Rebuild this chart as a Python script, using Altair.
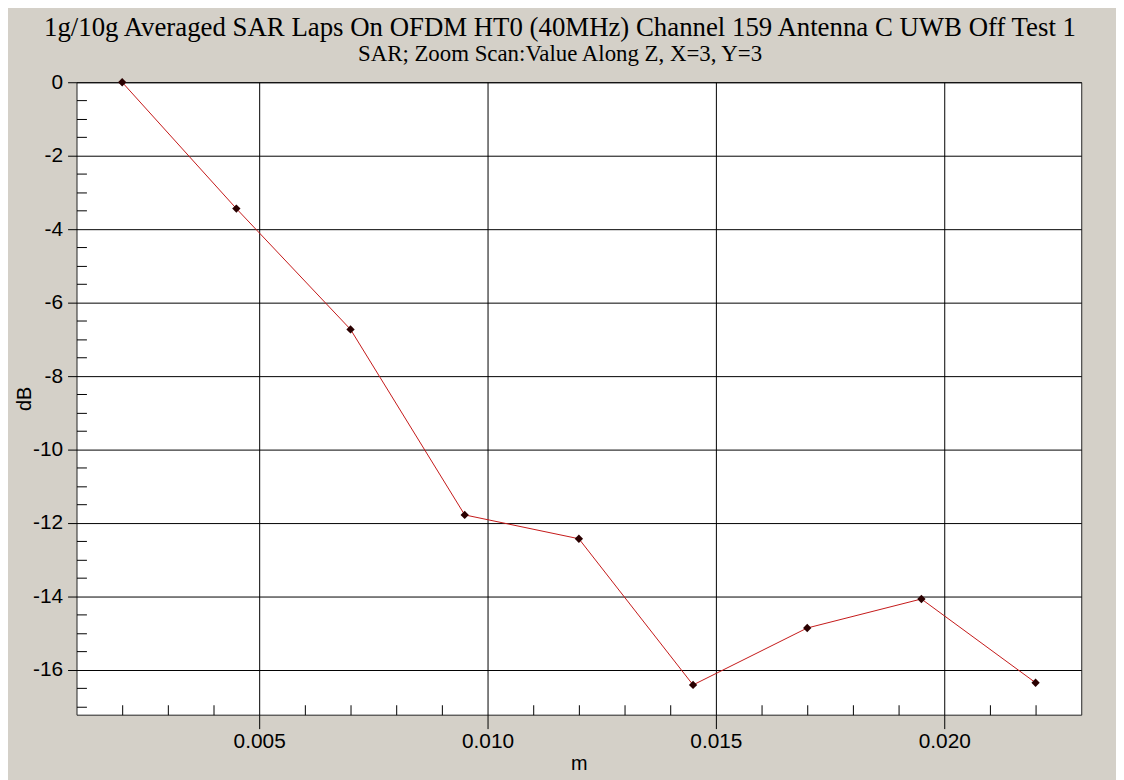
import altair as alt
import pandas as pd

# Data
x_m = [0.002, 0.0045, 0.007, 0.0095, 0.012, 0.0145, 0.017, 0.0195, 0.022]
db = [0.0, -3.44, -6.73, -11.78, -12.43, -16.41, -14.86, -14.07, -16.35]

x_major = [0.005, 0.010, 0.015, 0.020]
y_major = [0, -2, -4, -6, -8, -10, -12, -14, -16]
x_minor = [0.002, 0.003, 0.004, 0.006, 0.007, 0.008, 0.009, 0.011, 0.012, 0.013,
           0.014, 0.016, 0.017, 0.018, 0.019, 0.021, 0.022]
y_minor = [-0.5, -1, -1.5, -2.5, -3, -3.5, -4.5, -5, -5.5, -6.5, -7, -7.5, -8.5, -9,
           -9.5, -10.5, -11, -11.5, -12.5, -13, -13.5, -14.5, -15, -15.5, -16.5, -17]

title_text = "1g/10g Averaged SAR Laps On OFDM HT0 (40MHz) Channel 159 Antenna C UWB Off Test 1"
subtitle_text = "SAR; Zoom Scan:Value Along Z, X=3, Y=3"

df = pd.DataFrame({"m": x_m, "dB": db})

x_scale = alt.Scale(domain=[0.001, 0.023], nice=False, zero=False)
y_scale = alt.Scale(domain=[-17.22, 0], nice=False, zero=False)

SANS = "Liberation Sans"

main = alt.Chart(df).mark_line(
    color="#C41818", strokeWidth=1,
    point=alt.OverlayMarkDef(filled=True, shape="diamond", size=70, color="#2a0000", opacity=1),
).encode(
    x=alt.X("m:Q", scale=x_scale, axis=alt.Axis(
        values=x_major, format=".3f", tickSize=14, labelPadding=2, grid=True,
        gridColor="#000000", gridOpacity=1, gridWidth=1, domain=False,
        tickColor="#000000", tickWidth=1, labelFont=SANS, labelFontSize=21,
        labelColor="#000000", labelFlush=False, labelOverlap=False,
        title="m", titleFont=SANS, titleFontSize=20, titleFontWeight="normal",
        titleColor="#000000", titlePadding=2, orient="bottom")),
    y=alt.Y("dB:Q", scale=y_scale, axis=alt.Axis(
        values=y_major, labelExpr="'' + datum.value", tickSize=9, labelPadding=5, grid=True,
        gridColor="#000000", gridOpacity=1, gridWidth=1, domain=False,
        tickColor="#000000", tickWidth=1, labelFont=SANS, labelFontSize=21,
        labelColor="#000000", labelFlush=False, labelOverlap=False,
        title="dB", titleFont=SANS, titleFontSize=20, titleFontWeight="normal",
        titleColor="#000000", titlePadding=-2, orient="left")),
)

minor = alt.Chart(df).mark_point(opacity=0).encode(
    x=alt.X("m:Q", scale=x_scale, axis=alt.Axis(
        values=x_minor, orient="bottom", offset=-10, tickSize=10, labels=False,
        domain=False, grid=False, title="", tickColor="#000000", tickWidth=1)),
    y=alt.Y("dB:Q", scale=y_scale, axis=alt.Axis(
        values=y_minor, orient="left", offset=-10, tickSize=10, labels=False,
        domain=False, grid=False, title="", tickColor="#000000", tickWidth=1)),
)

chart = alt.layer(main, minor).resolve_axis(x="independent", y="independent").properties(
    width=1012,
    height=637,
    autosize=alt.AutoSizeParams(type="none"),
    padding={"left": 69, "top": 72, "right": 35, "bottom": 63},
    background="#D4D0C8",
    title=alt.TitleParams(
        text=title_text, subtitle=subtitle_text, anchor="middle", dx=-19,
        font="Liberation Serif", fontSize=27, fontWeight="normal", color="#000000",
        subtitleFont="Liberation Serif", subtitleFontSize=23, subtitleColor="#000000",
        subtitlePadding=2, offset=4,
    ),
).configure_view(
    fill="#FFFFFF", stroke="#222222", strokeWidth=1
)

chart.save("out.html", embed_options={"renderer": "svg", "actions": False})
